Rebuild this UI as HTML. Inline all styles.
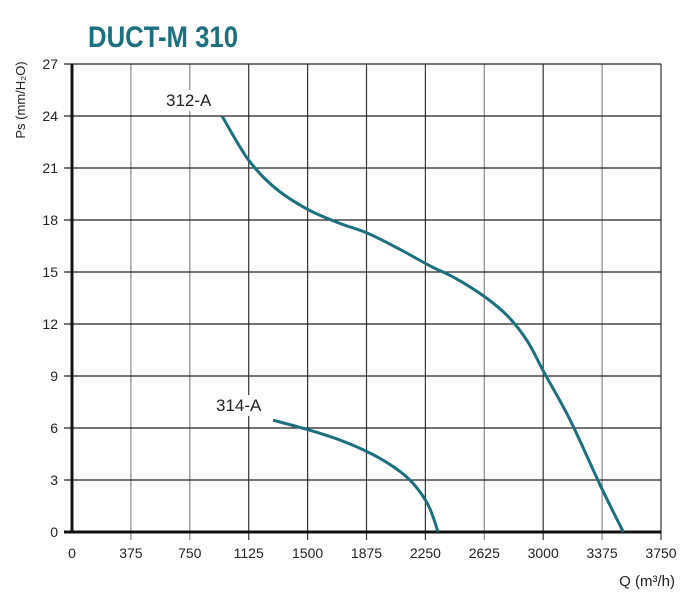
<!DOCTYPE html>
<html><head><meta charset="utf-8"><style>
html,body{margin:0;padding:0;background:#fff;}
svg{display:block;font-family:"Liberation Sans",sans-serif;}
</style></head><body>
<svg id="chart" width="697" height="600" viewBox="0 0 697 600">
<text x="88" y="47" font-size="30" font-weight="bold" fill="#1a6f80" textLength="150" lengthAdjust="spacingAndGlyphs">DUCT-M 310</text>
<g id="grid"></g>
<g id="axes"></g>
<g id="series"></g>
<text x="25" y="100" font-size="13" fill="#222" transform="rotate(-90 25 100)" text-anchor="middle">Ps (mm/H₂O)</text>
<text x="675" y="586" font-size="15" fill="#222" text-anchor="end">Q (m³/h)</text>
</svg>
<script>
const xTicks=[0,375,750,1125,1500,1875,2250,2625,3000,3375,3750];
const yTicks=[0,3,6,9,12,15,18,21,24,27];
const q312=[955,1121,1293,1503,1707,1879,2089,2280,2439,2631,2780,2900,3006,3172,3363,3510];
const p312=[24,21.5,19.85,18.6,17.8,17.25,16.3,15.35,14.65,13.55,12.4,11.0,9.2,6.45,2.7,0];
const q314=[1280,1503,1707,1898,2057,2172,2268,2331];
const p314=[6.45,5.9,5.3,4.55,3.7,2.8,1.55,0];
const X0=72,X1=661,Y0=532,Y1=64;
const sx=v=>X0+(v/3750)*(X1-X0);
const sy=v=>Y0-(v/27)*(Y0-Y1);
const NS='http://www.w3.org/2000/svg';
function mk(t,a,p){const e=document.createElementNS(NS,t);for(const k in a)e.setAttribute(k,a[k]);p.appendChild(e);return e;}
const grid=document.getElementById('grid'),axes=document.getElementById('axes'),ser=document.getElementById('series');
const gray=[375,750,2625,3375];
xTicks.forEach(v=>{
 if(v>0){const l=mk('line',{x1:sx(v),x2:sx(v),y1:Y1,y2:Y0+8,stroke:gray.includes(v)?'#888':'#333','stroke-width':1.2},grid);
 
 }
 const t=mk('text',{x:sx(v),y:558,'font-size':14,fill:'#222','text-anchor':'middle'},axes);t.textContent=v;
 
 
});
yTicks.forEach(v=>{
 if(v>0){const l=mk('line',{x1:X0-8,x2:X1,y1:sy(v),y2:sy(v),stroke:'#222','stroke-width':1.2},grid);
 
 }
 const t=mk('text',{x:X0-14,y:sy(v)+5,'font-size':14,fill:'#222','text-anchor':'end'},axes);t.textContent=v;
 
 
});
const ya=mk('line',{x1:X0,x2:X0,y1:Y1,y2:Y0+1.5,stroke:'#111','stroke-width':3},axes);


const xa=mk('line',{x1:X0-8,x2:X1,y1:Y0,y2:Y0,stroke:'#111','stroke-width':3},axes);


function curve(q,p){let d='M'+sx(q[0])+','+sy(p[0]);
 for(let i=0;i<q.length-1;i++){const x0=sx(q[Math.max(i-1,0)]),y0=sy(p[Math.max(i-1,0)]),x1=sx(q[i]),y1=sy(p[i]),x2=sx(q[i+1]),y2=sy(p[i+1]),x3=sx(q[Math.min(i+2,q.length-1)]),y3=sy(p[Math.min(i+2,q.length-1)]);
 d+=' C'+(x1+(x2-x0)/6)+','+(y1+(y2-y0)/6)+' '+(x2-(x3-x1)/6)+','+(y2-(y3-y1)/6)+' '+x2+','+y2;}
 return d;}
function label(txt,x,y,name){
 const r=mk('rect',{x:x-4,y:y-16,width:txt.length*10+6,height:21,fill:'#fff'},ser);
 
 
 const t=mk('text',{x:x,y:y,'font-size':17,fill:'#222'},ser);t.textContent=txt;
 
 }
label('312-A',166,106,'label-312a');
label('314-A',216,411,'label-314a');
const c1=mk('path',{d:curve(q312,p312),fill:'none',stroke:'#1a6f80','stroke-width':3},ser);


const c2=mk('path',{d:curve(q314,p314),fill:'none',stroke:'#1a6f80','stroke-width':3},ser);


</script>
</body></html>
